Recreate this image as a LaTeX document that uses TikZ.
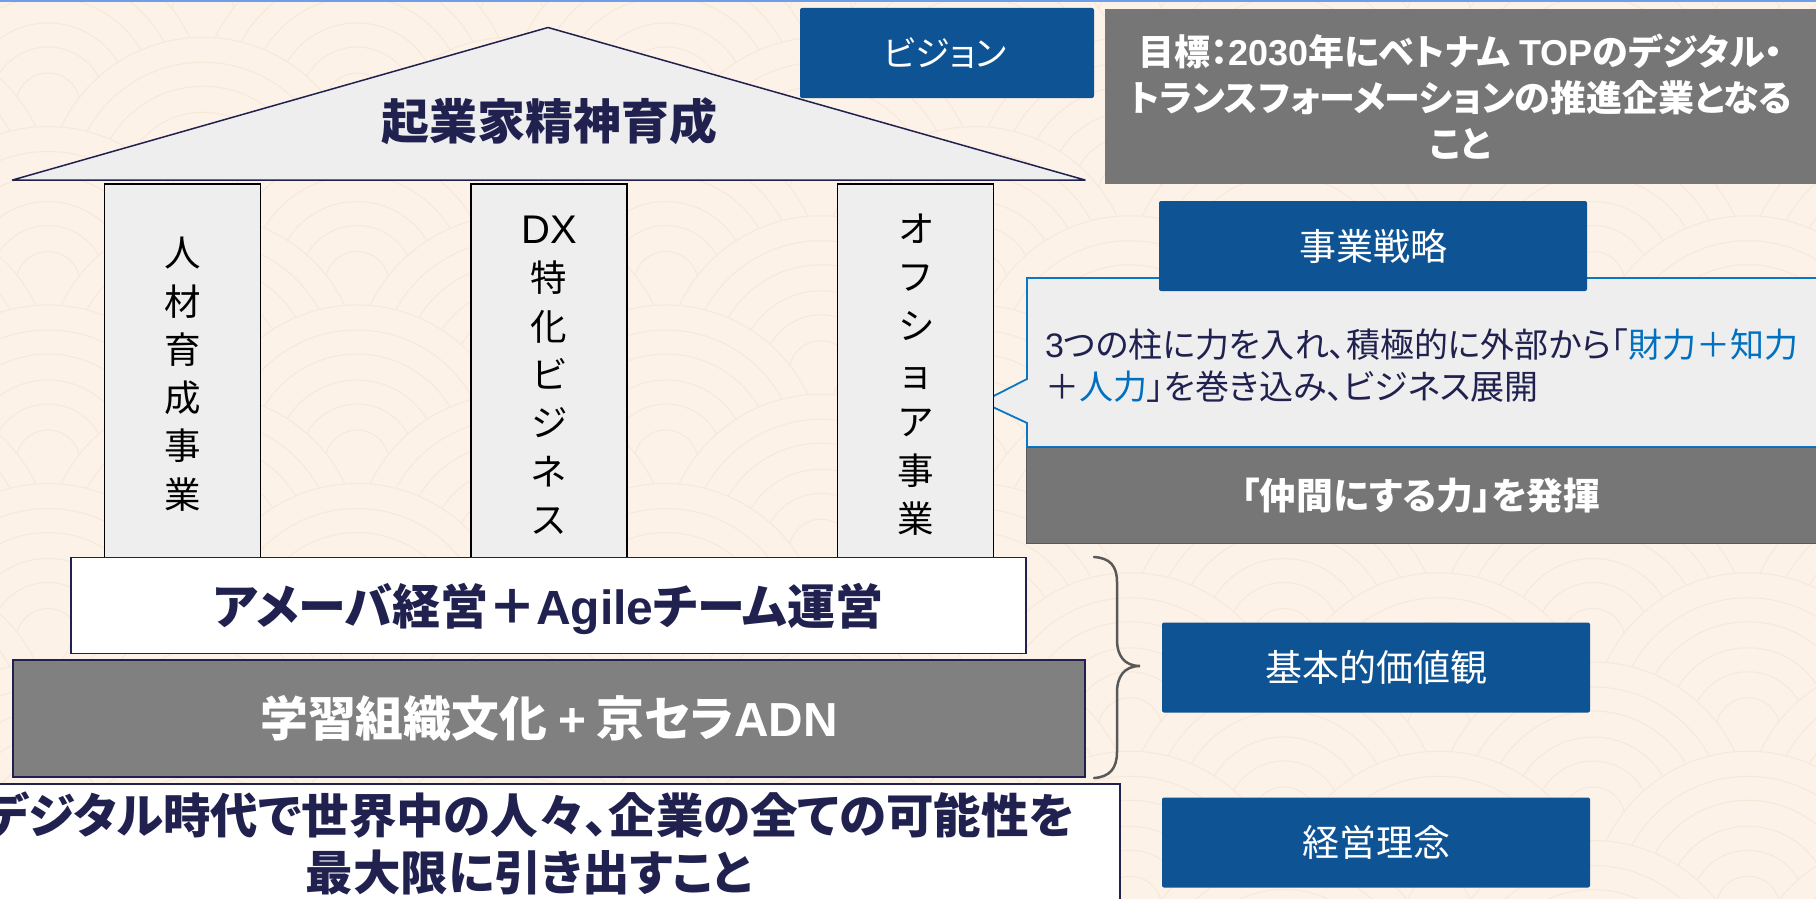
\documentclass[tikz,border=0pt]{standalone}
\usepackage{fontspec}
\setmainfont[RawFeature=+palt]{Noto Sans CJK JP}
\newfontfamily\latfont{Liberation Sans}
\newcommand{\lat}[1]{{\latfont #1}}
\newcommand{\topfix}[1]{\rule{0pt}{#1pt}}
\definecolor{bgcream}{HTML}{FCF2E8}
\definecolor{wave}{HTML}{F6E9D9}
\definecolor{navy}{HTML}{20214F}
\definecolor{paneblue}{HTML}{0E5394}
\definecolor{edgeblue}{HTML}{0B76C4}
\definecolor{accent}{HTML}{0070C0}
\definecolor{lightpane}{HTML}{EEEEEE}
\definecolor{grayA}{HTML}{767676}
\definecolor{grayB}{HTML}{808080}
\definecolor{topline}{HTML}{6D9EEB}
\tikzset{
  panel/.style={rectangle,inner sep=0pt,outer sep=0pt,align=center},
  pillar/.style={panel,draw=black,line width=1.6pt,fill=lightpane,text=black,
     minimum width=156pt,minimum height=374pt,font=\fontsize{36.5}{48.3}\selectfont},
  bluebox/.style={panel,fill=paneblue,rounded corners=2pt,text=white,
     minimum width=428pt,minimum height=90pt,font=\fontsize{37}{44}\selectfont},
}
\begin{document}
\begin{tikzpicture}[x=1pt,y=-1pt]
\useasboundingbox (0,0) rectangle (1816,899);
\begin{scope}
\clip (0,0) rectangle (1816,899);
\fill[bgcream] (0,0) rectangle (1816,899);
% seigaiha background
\foreach \j in {0,...,12}{
  \pgfmathsetmacro{\cy}{-73.5+89.25*\j}
  \pgfmathsetmacro{\xo}{isodd(\j)?-106:-261}
  \foreach \i in {0,...,7}{
    \pgfmathsetmacro{\cx}{\xo+309*\i}
    \fill[bgcream] (\cx,\cy) circle[radius=157pt];
    \foreach \r in {32,58,82,108,132,157}
      \draw[wave,line width=1pt] (\cx,\cy) circle[radius=\r pt];
  }
}
\fill[topline] (0,0) rectangle (1816,2);

% roof
\draw[navy,line width=1.5pt,line join=round,fill=lightpane] (12.5,180) -- (548,27.5) -- (1085,180) -- cycle;
\node[panel,text=navy,font=\fontsize{48}{52}\selectfont\bfseries] (roof) at (549,121) {起業家精神育成};

% strategy callout (beneath the third pillar)
\draw[edgeblue,line width=1.8pt,fill=lightpane] (1830,278) -- (1027,278) -- (1027,379) -- (982,402) -- (1027,423) -- (1027,447) -- (1830,447);
\node[panel,anchor=west,align=left,text=navy,font=\fontsize{34}{42}\selectfont] (calltext) at (1045,365.5)
  {\lat{3}つの柱に力を入れ、積極的に外部から「\textcolor{accent}{財力＋知力}\\＋\textcolor{accent}{人力}」を巻き込み、ビジネス展開};

% pillars
\node[pillar] (p1) at (182.5,371) {\topfix{36}人\\材\\育\\成\\事\\業};
\node[pillar] (p2) at (549,371) {\topfix{36}{\fontsize{40}{48.3}\selectfont\lat{DX}}\\特\\化\\ビ\\ジ\\ネ\\ス};
\node[pillar] (p3) at (915.5,371) {\topfix{36}オ\\フ\\シ\\ョ\\ア\\事\\業};

% foundations
\node[panel,draw=navy,line width=1.5pt,fill=white,text=navy,minimum width=955pt,minimum height=96pt,font=\fontsize{48}{50}\selectfont\bfseries] (agile) at (548.5,605.5)
  {\topfix{48}アメーバ経営＋\lat{\bfseries Agile}チーム運営};
\node[panel,draw=navy,line width=1.5pt,fill=grayB,text=white,minimum width=1072pt,minimum height=117pt,font=\fontsize{47.8}{50}\selectfont\bfseries] (culture) at (549,718.5)
  {学習組織文化 \lat{\bfseries +} 京セラ\lat{\bfseries ADN}};
\node[panel,draw=navy,line width=1.5pt,fill=white,text=navy,minimum width=1182pt,minimum height=119pt,font=\fontsize{47.5}{57}\selectfont\bfseries] (mission) at (529,843.5)
  {デジタル時代で世界中の人々、企業の全ての可能性を\\最大限に引き出すこと};

% right column
\node[bluebox,minimum width=294pt,font=\fontsize{35}{44}\selectfont] (vision) at (947,53) {\hspace*{-4pt}ビジョン};
\node[panel,fill=grayA,text=white,minimum width=711pt,minimum height=175pt,font=\fontsize{36}{46}\selectfont\bfseries] (goal) at (1460.5,96.5)
  {目標：\lat{\bfseries 2030}年にベトナム\hspace{0.25em}\lat{\bfseries TOP}のデジタル・\\トランスフォーメーションの推進企業となる\\こと};
\node[bluebox] (strategy) at (1373,246) {事業戦略};
\node[panel,draw=black!65,line width=1pt,fill=grayA,text=white,minimum width=790pt,minimum height=96pt,font=\fontsize{36.8}{42}\selectfont\bfseries] (nakama) at (1421,495.5)
  {「仲間にする力」を発揮};
\node[bluebox] (values) at (1376,667.5) {基本的価値観};
\node[bluebox] (creed) at (1376,842.5) {経営理念};

% brace
\draw[black!65,line width=2.5pt,line cap=round]
  (1094,557) .. controls (1110,558) and (1117,566) .. (1117,582)
  -- (1117,640) .. controls (1117,655) and (1124,666) .. (1140,666)
  .. controls (1124,666) and (1117,677) .. (1117,692)
  -- (1117,752) .. controls (1117,768) and (1110,777) .. (1094,778);
\end{scope}
\end{tikzpicture}
\end{document}
